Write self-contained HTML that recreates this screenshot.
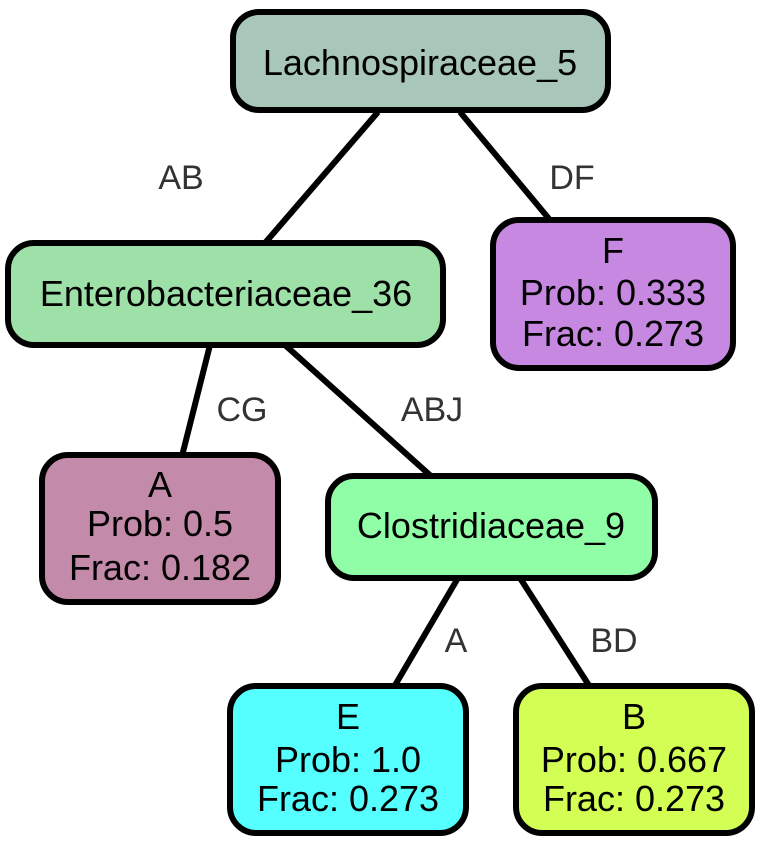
<!DOCTYPE html>
<html><head><meta charset="utf-8"><style>
html,body{margin:0;padding:0;background:#fff;}
svg{display:block;}
text{font-family:"Liberation Sans",sans-serif;}
</style></head><body>
<svg width="767" height="846" viewBox="0 0 767 846">
<g stroke="#000" stroke-width="6" fill="none">
<line x1="378" y1="112" x2="265" y2="243"/>
<line x1="460" y1="112" x2="550" y2="220"/>
<line x1="210" y1="345" x2="182" y2="456"/>
<line x1="285" y1="345" x2="432" y2="477"/>
<line x1="458" y1="578" x2="394" y2="687"/>
<line x1="520" y1="578" x2="590" y2="687"/>
</g>
<g fill="#333" font-size="34" text-anchor="middle">
<text x="181" y="189">AB</text>
<text x="572" y="189">DF</text>
<text x="242" y="421">CG</text>
<text x="432" y="421">ABJ</text>
<text x="456" y="652">A</text>
<text x="614" y="652">BD</text>
</g>
<g stroke="#000" stroke-width="6">
<rect x="233" y="12" width="375" height="98" rx="26" fill="#a9c7b8"/>
<rect x="8" y="243" width="435" height="102" rx="26" fill="#9de0a8"/>
<rect x="493" y="220" width="240" height="148" rx="26" fill="#c688e0"/>
<rect x="42" y="455" width="236" height="147" rx="26" fill="#c48aa9"/>
<rect x="328" y="476" width="327" height="102" rx="26" fill="#90fea6"/>
<rect x="230" y="686" width="236" height="147" rx="26" fill="#55ffff"/>
<rect x="516" y="686" width="236" height="147" rx="26" fill="#d3ff55"/>
</g>
<g fill="#000" font-size="36" text-anchor="middle">
<text x="420" y="75">Lachnospiraceae_5</text>
<text x="226" y="306">Enterobacteriaceae_36</text>
<text x="613" y="263">F</text>
<text x="613" y="305">Prob: 0.333</text>
<text x="613" y="346">Frac: 0.273</text>
<text x="160" y="497">A</text>
<text x="160" y="536">Prob: 0.5</text>
<text x="160" y="580">Frac: 0.182</text>
<text x="491" y="538">Clostridiaceae_9</text>
<text x="348" y="729">E</text>
<text x="348" y="772">Prob: 1.0</text>
<text x="348" y="811">Frac: 0.273</text>
<text x="634" y="729">B</text>
<text x="634" y="772">Prob: 0.667</text>
<text x="634" y="811">Frac: 0.273</text>
</g>
</svg>
</body></html>
